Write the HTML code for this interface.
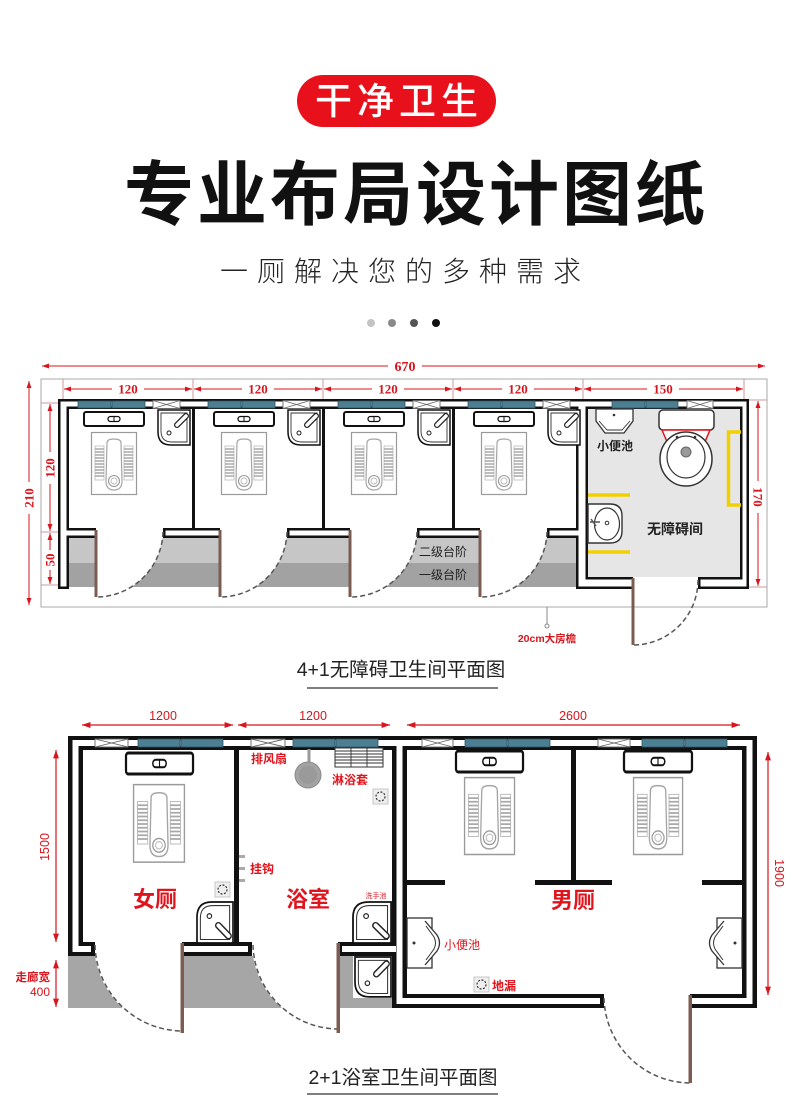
<!DOCTYPE html>
<html><head><meta charset="utf-8"><style>
html,body{margin:0;padding:0;background:#fff;}
svg{display:block;}
text{font-family:"Liberation Sans","Noto Sans CJK SC",sans-serif;}
.serif{font-family:"Liberation Serif","Noto Serif CJK SC",serif;}
</style></head><body>
<svg width="790" height="1120" viewBox="0 0 790 1120" xmlns="http://www.w3.org/2000/svg">
<defs>
<marker id="ar" viewBox="0 0 10 10" refX="10" refY="5" markerWidth="7" markerHeight="7" orient="auto-start-reverse"><path d="M0,1.5 L10,5 L0,8.5 z" fill="#d8141c"/></marker>
<g id="sq">
 <rect x="0.5" y="0.5" width="45" height="62" fill="#fff" stroke="#9a9a9a" stroke-width="1.2"/>
 <rect x="4" y="14" width="9" height="34" fill="#fff" stroke="#bbb" stroke-width="0.8"/>
 <rect x="33" y="14" width="9" height="34" fill="#fff" stroke="#bbb" stroke-width="0.8"/>
 <path d="M4,17h9M4,20h9M4,23h9M4,26h9M4,29h9M4,32h9M4,35h9M4,38h9M4,41h9M4,44h9M33,17h9M33,20h9M33,23h9M33,26h9M33,29h9M33,32h9M33,35h9M33,38h9M33,41h9M33,44h9" stroke="#a8a8a8" stroke-width="1.4"/>
 <path d="M16,11 Q16,7 23,7 Q30,7 30,11 L31,49 Q31,58 23,58 Q15,58 15,49 Z" fill="#fff" stroke="#a5a5a5" stroke-width="1.2"/>
 <circle cx="23" cy="49" r="5.5" fill="#fff" stroke="#999" stroke-width="1.1"/>
 <circle cx="23" cy="49" r="3" fill="none" stroke="#bbb" stroke-width="0.9"/>
</g>
<g id="van">
 <rect x="0" y="0" width="60" height="14" rx="2" fill="#fff" stroke="#111" stroke-width="2"/>
 <rect x="24" y="4.5" width="12" height="5" rx="2.5" fill="#fff" stroke="#111" stroke-width="1.3"/>
 <line x1="30" y1="4.5" x2="30" y2="9.5" stroke="#111" stroke-width="1"/>
</g>
<g id="cs">
 <path d="M0,0H32V35H13Q0,35 0,22Z" fill="#fff" stroke="#111" stroke-width="1.5"/>
 <path d="M3,3H29V32H14Q3,32 3,21Z" fill="none" stroke="#333" stroke-width="0.9"/>
 <path d="M28,6 L19,15" stroke="#222" stroke-width="6" stroke-linecap="round"/>
 <path d="M28,6 L19,15" stroke="#fff" stroke-width="3.5" stroke-linecap="round"/>
 <circle cx="11" cy="23" r="2" fill="#fff" stroke="#222" stroke-width="1"/>
</g>
<g id="fd">
 <rect x="0" y="0" width="15" height="15" fill="#efefef" stroke="#bbb" stroke-width="0.8"/>
 <circle cx="7.5" cy="7.5" r="4.5" fill="none" stroke="#333" stroke-width="1.2" stroke-dasharray="2,1.5"/>
</g>
<g id="ur">
 <rect x="0" y="0" width="25" height="50" fill="#fff" stroke="#333" stroke-width="1.3"/>
 <path d="M18,3 L30,17 Q35,25 30,33 L18,47" fill="#fff" stroke="#333" stroke-width="1.3"/>
 <path d="M19,8 L27,19 Q30,25 27,31 L19,42" fill="none" stroke="#333" stroke-width="1"/>
 <circle cx="7" cy="25" r="1.5" fill="#333"/>
</g>
</defs>

<!-- HEADER -->
<rect x="297" y="75" width="199" height="52" rx="26" fill="#e8111b"/>
<text x="399" y="114" font-size="37" fill="#fff" text-anchor="middle" letter-spacing="5" font-weight="500">干净卫生</text>
<text x="416" y="219" font-size="70" fill="#111" text-anchor="middle" letter-spacing="3" font-weight="bold">专业布局设计图纸</text>
<text x="405" y="281" font-size="28" fill="#222" text-anchor="middle" letter-spacing="9" font-weight="300">一厕解决您的多种需求</text>
<circle cx="371" cy="323" r="4" fill="#c4c4c4"/>
<circle cx="392" cy="323" r="4" fill="#8a8a8a"/>
<circle cx="414" cy="323" r="4" fill="#555"/>
<circle cx="436" cy="323" r="4" fill="#111"/>

<!-- ============ TOP PLAN ============ -->
<rect x="41" y="379" width="726" height="228" fill="none" stroke="#aaa" stroke-width="1"/>
<line x1="42" y1="366" x2="765" y2="366" stroke="#d8141c" stroke-width="1" marker-start="url(#ar)" marker-end="url(#ar)"/>
<rect x="388" y="358" width="34" height="16" fill="#fff"/>
<text class="serif" x="405" y="371" font-size="14" fill="#d8141c" text-anchor="middle" font-weight="bold">670</text>
<g stroke="#c99" stroke-width="1">
 <line x1="63" y1="379" x2="63" y2="399"/><line x1="193" y1="379" x2="193" y2="399"/><line x1="323" y1="379" x2="323" y2="399"/><line x1="453" y1="379" x2="453" y2="399"/><line x1="583" y1="379" x2="583" y2="399"/><line x1="744" y1="379" x2="744" y2="399"/>
 <line x1="41" y1="403" x2="58" y2="403"/><line x1="41" y1="532" x2="58" y2="532"/><line x1="41" y1="585" x2="58" y2="585"/>
 <line x1="749" y1="400" x2="767" y2="400"/><line x1="749" y1="587" x2="767" y2="587"/>
</g>
<g stroke="#d8141c" stroke-width="1">
 <line x1="64" y1="389" x2="192" y2="389" marker-start="url(#ar)" marker-end="url(#ar)"/>
 <line x1="194" y1="389" x2="322" y2="389" marker-start="url(#ar)" marker-end="url(#ar)"/>
 <line x1="324" y1="389" x2="452" y2="389" marker-start="url(#ar)" marker-end="url(#ar)"/>
 <line x1="454" y1="389" x2="582" y2="389" marker-start="url(#ar)" marker-end="url(#ar)"/>
 <line x1="584" y1="389" x2="743" y2="389" marker-start="url(#ar)" marker-end="url(#ar)"/>
 <line x1="29" y1="381" x2="29" y2="605" marker-start="url(#ar)" marker-end="url(#ar)"/>
 <line x1="50" y1="404" x2="50" y2="531" marker-start="url(#ar)" marker-end="url(#ar)"/>
 <line x1="50" y1="533" x2="50" y2="584" marker-start="url(#ar)" marker-end="url(#ar)"/>
 <line x1="758" y1="401" x2="758" y2="586" marker-start="url(#ar)" marker-end="url(#ar)"/>
</g>
<g fill="#fff">
 <rect x="112" y="382" width="32" height="14"/><rect x="242" y="382" width="32" height="14"/><rect x="372" y="382" width="32" height="14"/><rect x="502" y="382" width="32" height="14"/><rect x="647" y="382" width="32" height="14"/>
 <rect x="22" y="482" width="14" height="32"/><rect x="43" y="452" width="14" height="32"/><rect x="43" y="550" width="14" height="20"/><rect x="751" y="481" width="14" height="32"/>
</g>
<g class="serif" font-size="13" fill="#d8141c" font-weight="bold" text-anchor="middle">
 <text class="serif" x="128" y="393.5">120</text><text class="serif" x="258" y="393.5">120</text><text class="serif" x="388" y="393.5">120</text><text class="serif" x="518" y="393.5">120</text><text class="serif" x="663" y="393.5">150</text>
 <text class="serif" transform="translate(33.5,498) rotate(-90)" x="0" y="0">210</text>
 <text class="serif" transform="translate(54.5,468) rotate(-90)" x="0" y="0">120</text>
 <text class="serif" transform="translate(54.5,560) rotate(-90)" x="0" y="0">50</text>
 <text class="serif" transform="translate(753.5,497) rotate(90)" x="0" y="0">170</text>
</g>

<rect x="588" y="409" width="152" height="168" fill="#e6e6e6"/>
<rect x="69" y="538" width="507" height="25" fill="#c6c6c6"/>
<rect x="69" y="563" width="507" height="24" fill="#a2a2a2"/>
<g fill="#fff">
 <path d="M96,530 H163 A67,67 0 0 1 96,597 Z"/>
 <path d="M220,530 H287 A67,67 0 0 1 220,597 Z"/>
 <path d="M350,530 H417 A67,67 0 0 1 350,597 Z"/>
 <path d="M480,530 H547 A67,67 0 0 1 480,597 Z"/>
</g>
<g fill="#111">
 <rect x="58" y="399" width="691" height="10"/>
 <rect x="58" y="399" width="11" height="190"/>
 <rect x="740" y="399" width="9" height="190"/>
 <rect x="576" y="399" width="12" height="190"/>
 <rect x="576" y="577" width="57" height="12"/>
 <rect x="698" y="577" width="51" height="12"/>
 <rect x="58" y="528" width="38" height="10"/>
 <rect x="163" y="528" width="57" height="10"/>
 <rect x="287" y="528" width="63" height="10"/>
 <rect x="417" y="528" width="63" height="10"/>
 <rect x="547" y="528" width="35" height="10"/>
 <rect x="192" y="409" width="3" height="120"/>
 <rect x="322" y="409" width="3" height="120"/>
 <rect x="452" y="409" width="3" height="120"/>
</g>
<g fill="#fff">
 <rect x="60.5" y="401.5" width="686" height="5"/>
 <rect x="60.5" y="401.5" width="6" height="185"/>
 <rect x="742.5" y="401.5" width="4" height="185"/>
 <rect x="578.5" y="401.5" width="7" height="185"/>
 <rect x="578.5" y="579.5" width="54.5" height="7"/>
 <rect x="700.5" y="579.5" width="46" height="7"/>
 <rect x="60.5" y="530.5" width="35.5" height="5"/>
 <rect x="165.5" y="530.5" width="54.5" height="5"/>
 <rect x="289.5" y="530.5" width="60.5" height="5"/>
 <rect x="419.5" y="530.5" width="60.5" height="5"/>
 <rect x="549.5" y="530.5" width="36" height="5"/>
</g>
<g fill="none" stroke="#555" stroke-width="1.5" stroke-dasharray="5,3">
 <path d="M163,532 A67,67 0 0 1 96,597"/>
 <path d="M287,532 A67,67 0 0 1 220,597"/>
 <path d="M417,532 A67,67 0 0 1 350,597"/>
 <path d="M547,532 A67,67 0 0 1 480,597"/>
 <path d="M698,580 A65,65 0 0 1 633,645"/>
</g>
<g fill="#7b5c52">
 <rect x="94.5" y="530" width="3" height="67"/>
 <rect x="218.5" y="530" width="3" height="67"/>
 <rect x="348.5" y="530" width="3" height="67"/>
 <rect x="478.5" y="530" width="3" height="67"/>
 <rect x="631.5" y="578" width="3" height="67"/>
</g>
<g fill="#4d7f92" stroke="#2f5566" stroke-width="0.8">
 <rect x="78" y="401" width="33" height="7"/><rect x="112" y="401" width="33" height="7"/>
 <rect x="208" y="401" width="33" height="7"/><rect x="242" y="401" width="33" height="7"/>
 <rect x="338" y="401" width="33" height="7"/><rect x="372" y="401" width="33" height="7"/>
 <rect x="468" y="401" width="33" height="7"/><rect x="502" y="401" width="33" height="7"/>
 <rect x="612" y="401" width="33" height="7"/><rect x="646" y="401" width="32" height="7"/>
</g>
<g fill="#fff" stroke="#666" stroke-width="0.9">
 <rect x="153" y="400.5" width="27" height="8"/><path d="M153,400.5 L180,408.5 M180,400.5 L153,408.5"/>
 <rect x="283" y="400.5" width="27" height="8"/><path d="M283,400.5 L310,408.5 M310,400.5 L283,408.5"/>
 <rect x="413" y="400.5" width="27" height="8"/><path d="M413,400.5 L440,408.5 M440,400.5 L413,408.5"/>
 <rect x="543" y="400.5" width="27" height="8"/><path d="M543,400.5 L570,408.5 M570,400.5 L543,408.5"/>
 <rect x="687" y="400.5" width="26" height="8"/><path d="M687,400.5 L713,408.5 M713,400.5 L687,408.5"/>
</g>
<use href="#van" transform="translate(84,412)"/><use href="#van" transform="translate(214,412)"/><use href="#van" transform="translate(344,412)"/><use href="#van" transform="translate(474,412)"/>
<use href="#cs" transform="translate(158,410)"/><use href="#cs" transform="translate(288,410)"/><use href="#cs" transform="translate(418,410)"/><use href="#cs" transform="translate(548,410)"/>
<use href="#sq" transform="translate(91,432)"/><use href="#sq" transform="translate(221,432)"/><use href="#sq" transform="translate(351,432)"/><use href="#sq" transform="translate(481,432)"/>
<path d="M596,409 V421 L605,433 H624 L633,421 V409 Z" fill="#fff" stroke="#333" stroke-width="1.3"/>
<path d="M599,421 L607,430 H622 L630,421" fill="none" stroke="#333" stroke-width="0.9"/>
<circle cx="614" cy="415" r="1.3" fill="#333"/>
<text x="615" y="450" font-size="12" fill="#222" text-anchor="middle" font-weight="bold">小便池</text>
<rect x="659" y="410" width="55" height="20" rx="4" fill="#fff" stroke="#333" stroke-width="1.5"/>
<path d="M662,430 L668,444 H704 L710,430 Z" fill="#fff" stroke="#e0141c" stroke-width="1.5"/>
<ellipse cx="686" cy="459" rx="26" ry="27" fill="#fff" stroke="#333" stroke-width="1.5"/>
<ellipse cx="686" cy="457" rx="19" ry="21" fill="#fff" stroke="#333" stroke-width="1.2"/>
<circle cx="686" cy="452" r="5" fill="#999" stroke="#666"/>
<circle cx="677" cy="437" r="1.3" fill="#333"/><circle cx="695" cy="437" r="1.3" fill="#333"/>
<path d="M741,432 H728.5 V505 H741" fill="none" stroke="#f2d000" stroke-width="3.5"/>
<line x1="588" y1="495" x2="630" y2="495" stroke="#f2d000" stroke-width="3.5"/>
<line x1="588" y1="552" x2="630" y2="552" stroke="#f2d000" stroke-width="3.5"/>
<path d="M588,504 H610 Q622,504 622,516 V531 Q622,543 610,543 H588 Z" fill="#fff" stroke="#333" stroke-width="1.4"/>
<ellipse cx="607" cy="524" rx="12.5" ry="16" fill="#fff" stroke="#333" stroke-width="1.2"/>
<path d="M590,522 H600 M591,519 L596,526" stroke="#555" stroke-width="1.5"/>
<circle cx="607" cy="523" r="1.8" fill="none" stroke="#333"/>
<text x="675" y="534" font-size="14" fill="#222" text-anchor="middle" font-weight="bold">无障碍间</text>
<text x="443" y="556" font-size="12" fill="#222" text-anchor="middle">二级台阶</text>
<text x="443" y="579" font-size="12" fill="#222" text-anchor="middle">一级台阶</text>
<line x1="547" y1="607" x2="547" y2="624" stroke="#888" stroke-width="1"/>
<circle cx="547" cy="626" r="2" fill="#fff" stroke="#888"/>
<text x="547" y="642" font-size="10.5" fill="#d8141c" text-anchor="middle" font-weight="bold">20cm大房檐</text>
<text x="401" y="676" font-size="19.5" fill="#222" text-anchor="middle">4+1无障碍卫生间平面图</text>
<line x1="307" y1="688" x2="498" y2="688" stroke="#555" stroke-width="1.6"/>

<!-- ============ BOTTOM PLAN ============ -->
<g stroke="#d8141c" stroke-width="1.2">
 <line x1="82" y1="725" x2="233" y2="725" marker-start="url(#ar)" marker-end="url(#ar)"/>
 <line x1="238" y1="725" x2="390" y2="725" marker-start="url(#ar)" marker-end="url(#ar)"/>
 <line x1="407" y1="725" x2="740" y2="725" marker-start="url(#ar)" marker-end="url(#ar)"/>
 <line x1="56" y1="750" x2="56" y2="942" marker-start="url(#ar)" marker-end="url(#ar)"/>
 <line x1="56" y1="960" x2="56" y2="1007" marker-start="url(#ar)" marker-end="url(#ar)"/>
 <line x1="768" y1="752" x2="768" y2="995" marker-start="url(#ar)" marker-end="url(#ar)"/>
</g>
<g font-size="12.5" fill="#d8141c" text-anchor="middle">
 <text x="163" y="720">1200</text>
 <text x="313" y="720">1200</text>
 <text x="573" y="720">2600</text>
 <text transform="translate(49,847) rotate(-90)">1500</text>
 <text transform="translate(775,873) rotate(90)">1900</text>
</g>
<text x="50" y="981" font-size="11.5" fill="#d8141c" text-anchor="end" font-weight="bold">走廊宽</text>
<text x="50" y="996" font-size="12" fill="#d8141c" text-anchor="end">400</text>

<rect x="68" y="956" width="329" height="52" fill="#a6a6a6"/>
<g fill="#fff">
 <path d="M182,943 L94,943 A88,88 0 0 0 182,1031 Z"/>
 <path d="M338,943 L252,943 A86,86 0 0 0 338,1029 Z"/>
</g>
<g fill="#111">
 <rect x="68" y="736" width="689" height="14"/>
 <rect x="68" y="736" width="15" height="220"/>
 <rect x="68" y="942" width="27" height="14"/>
 <rect x="182" y="942" width="70" height="14"/>
 <rect x="338" y="942" width="54" height="14"/>
 <rect x="392" y="736" width="15" height="272"/>
 <rect x="392" y="994" width="212" height="14"/>
 <rect x="690" y="994" width="67" height="14"/>
 <rect x="742" y="736" width="15" height="272"/>
 <rect x="234" y="750" width="5" height="193"/>
 <rect x="571" y="750" width="5" height="135"/>
 <rect x="407" y="880" width="38" height="5"/>
 <rect x="535" y="880" width="77" height="5"/>
 <rect x="702" y="880" width="41" height="5"/>
</g>
<g fill="#fff">
 <rect x="72.5" y="740" width="680" height="6"/>
 <rect x="72.5" y="740" width="6" height="212"/>
 <rect x="72.5" y="946" width="18.5" height="6"/>
 <rect x="182" y="946" width="66" height="6"/>
 <rect x="342" y="946" width="54" height="6"/>
 <rect x="396.5" y="740" width="6" height="264"/>
 <rect x="396.5" y="998" width="203.5" height="6"/>
 <rect x="690" y="998" width="62.5" height="6"/>
 <rect x="746.5" y="740" width="6" height="264"/>
</g>
<rect x="353" y="956" width="39" height="42" fill="#fff"/>
<use href="#cs" transform="translate(355,957) scale(1.125,1.14)"/>
<g fill="none" stroke="#555" stroke-width="1.5" stroke-dasharray="5,3">
 <path d="M95,945 A88,88 0 0 0 182,1031"/>
 <path d="M253,945 A86,86 0 0 0 338,1029"/>
 <path d="M604,998 A87,87 0 0 0 690,1083"/>
</g>
<g fill="#7b5c52">
 <rect x="180.5" y="943" width="3.5" height="90"/>
 <rect x="336.5" y="943" width="3.5" height="90"/>
 <rect x="688.5" y="995" width="3.5" height="88"/>
</g>
<g fill="#4d7f92" stroke="#2f5566" stroke-width="0.8">
 <rect x="138" y="739" width="42" height="8"/><rect x="181" y="739" width="42" height="8"/>
 <rect x="293" y="739" width="42" height="8"/><rect x="336" y="739" width="42" height="8"/>
 <rect x="465" y="739" width="42" height="8"/><rect x="508" y="739" width="42" height="8"/>
 <rect x="642" y="739" width="42" height="8"/><rect x="685" y="739" width="42" height="8"/>
</g>
<g fill="#fff" stroke="#666" stroke-width="0.9">
 <rect x="95" y="739" width="33" height="8"/><path d="M95,739 L128,747 M128,739 L95,747"/>
 <rect x="251" y="739" width="34" height="8"/><path d="M251,739 L285,747 M285,739 L251,747"/>
 <rect x="422" y="739" width="31" height="8"/><path d="M422,739 L453,747 M453,739 L422,747"/>
 <rect x="598" y="739" width="32" height="8"/><path d="M598,739 L630,747 M630,739 L598,747"/>
</g>
<use href="#van" transform="translate(126,753) scale(1.117,1.5)"/>
<use href="#van" transform="translate(456,751) scale(1.117,1.5)"/>
<use href="#van" transform="translate(624,751) scale(1.133,1.5)"/>
<use href="#sq" transform="translate(133,784) scale(1.13,1.25)"/>
<use href="#sq" transform="translate(464,777) scale(1.11,1.24)"/>
<use href="#sq" transform="translate(633,777) scale(1.09,1.24)"/>
<use href="#cs" transform="translate(197,943) scale(1.125,-1.17)"/>
<use href="#cs" transform="translate(353,943) scale(1.19,-1.17)"/>
<use href="#fd" transform="translate(215,882)"/>
<use href="#fd" transform="translate(373,789)"/>
<use href="#fd" transform="translate(474,977)"/>
<use href="#ur" transform="translate(407,918)"/>
<use href="#ur" transform="translate(742,918) scale(-1,1)"/>
<rect x="307.5" y="749" width="3" height="18" fill="#999"/>
<circle cx="308" cy="775" r="13" fill="#a3a3a3" stroke="#8a8a8a" stroke-width="1"/>
<circle cx="308" cy="775" r="9" fill="#9a9a9a"/>
<rect x="335" y="748" width="48" height="19" fill="#fff" stroke="#333" stroke-width="1"/>
<path d="M335,751h48M335,754h48M335,757h48M335,760h48M335,763h48M351,748v19M367,748v19" stroke="#333" stroke-width="0.9"/>
<g fill="#aaa"><rect x="239" y="855" width="6" height="3"/><rect x="239" y="867" width="6" height="3"/><rect x="239" y="879" width="6" height="3"/></g>
<g fill="#e0141c">
 <text x="155" y="907" font-size="22" text-anchor="middle" font-weight="bold">女厕</text>
 <text x="308" y="907" font-size="22" text-anchor="middle" font-weight="bold">浴室</text>
 <text x="573" y="908" font-size="22" text-anchor="middle" font-weight="bold">男厕</text>
 <text x="251" y="763" font-size="12" font-weight="bold">排风扇</text>
 <text x="350" y="784" font-size="12" text-anchor="middle" font-weight="bold">淋浴套</text>
 <text x="250" y="873" font-size="12" font-weight="bold">挂钩</text>
 <text x="376" y="898" font-size="7" text-anchor="middle">洗手池</text>
 <text x="444" y="949" font-size="12">小便池</text>
 <text x="492" y="990" font-size="12" font-weight="bold">地漏</text>
</g>
<text x="403" y="1084" font-size="19.5" fill="#222" text-anchor="middle">2+1浴室卫生间平面图</text>
<line x1="307" y1="1094" x2="498" y2="1094" stroke="#555" stroke-width="1.6"/>
</svg>
</body></html>
